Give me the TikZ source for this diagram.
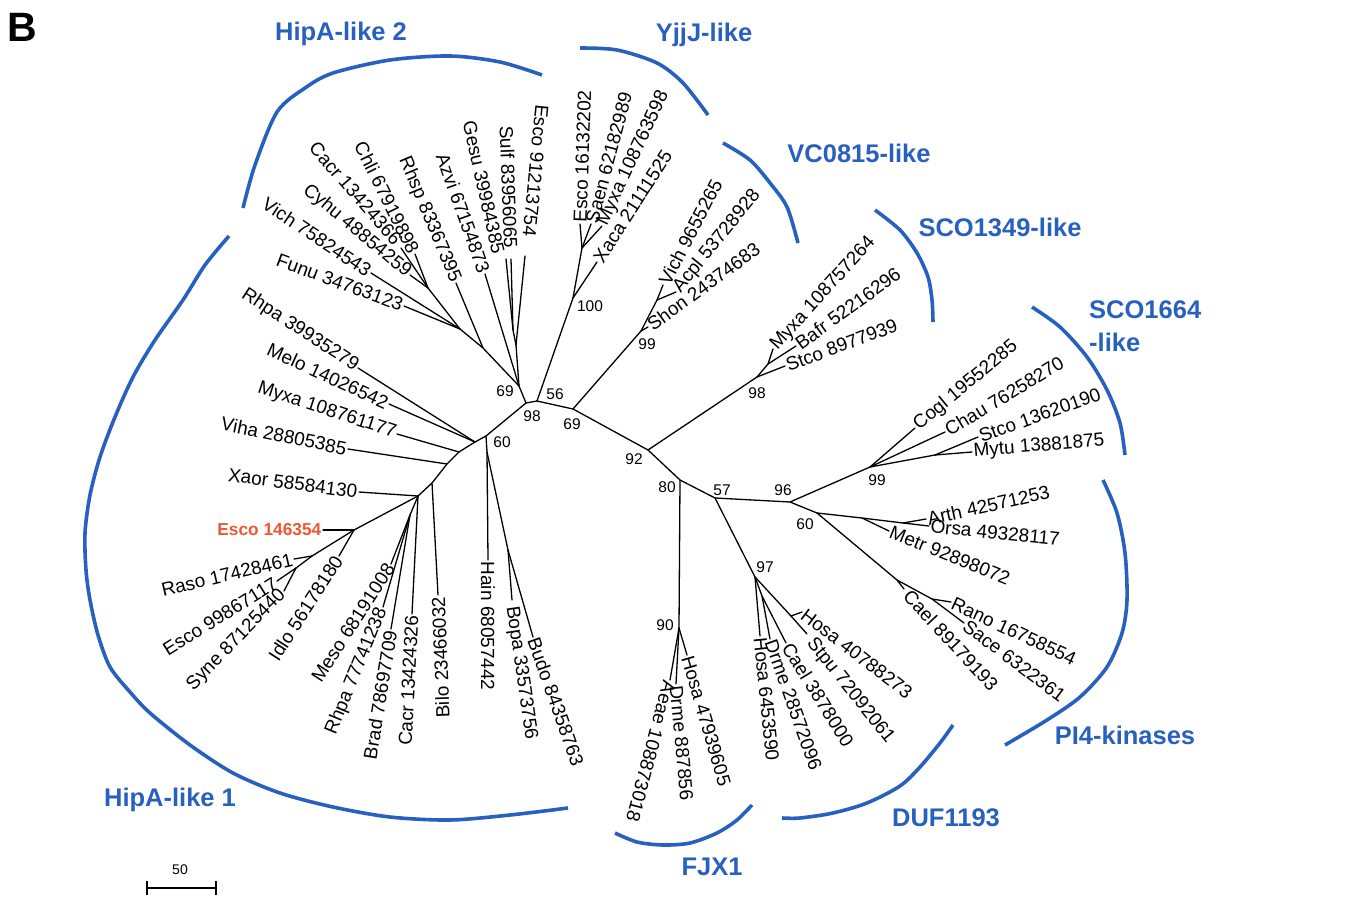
\documentclass[tikz,border=0pt]{standalone}
\usepackage{fontspec}
\setmainfont{Liberation Sans}
\begin{document}
\definecolor{cblue}{RGB}{40,96,192}
\definecolor{cred}{RGB}{238,88,52}
\begin{tikzpicture}[x=1pt,y=-1pt,
  br/.style={draw=black,line width=1.3pt,line cap=round,line join=round},
  leaf/.style={font=\fontsize{19}{21}\selectfont,inner sep=1.5pt},
  lw/.style={leaf,anchor=west},
  le/.style={leaf,anchor=east},
  boot/.style={font=\fontsize{15.5}{17}\selectfont,inner sep=0pt},
  clade/.style={draw=cblue,line width=3.6pt,line cap=butt},
  grp/.style={font=\bfseries\fontsize{25.5}{33}\selectfont,text=cblue,inner sep=0pt},
  sbar/.style={draw=black,line width=1.3pt}]
\useasboundingbox (0,0) rectangle (1354,899);

% ---------- internal nodes ----------
\coordinate (h2) at (519,386);
\coordinate (n98) at (526,403);
\coordinate (n56) at (537,401);
\coordinate (n69v) at (573,409);
\coordinate (n92) at (648,450);
\coordinate (n80) at (680,480);
\coordinate (n57) at (715,498);
\coordinate (n96) at (790,502);
\coordinate (n99c) at (870,467);
\coordinate (n60p) at (817,513);
\coordinate (n97) at (755,577);
\coordinate (n90) at (679,628);
\coordinate (n100) at (573,298);
\coordinate (n99v) at (641,331);
\coordinate (n98s) at (757,377);
\coordinate (h1) at (486,436);
% HipA-like 2
\coordinate (r1) at (483,348);
\coordinate (c1) at (460,329);
\coordinate (c2) at (428,288);
\coordinate (g1) at (516,345);
\coordinate (gs) at (513,330);
% YjjJ
\coordinate (ya) at (582,248);
% VC0815
\coordinate (vj) at (657,300);
% SCO1349
\coordinate (sj) at (768,364);
% SCO1664
\coordinate (sk) at (935,455);
% PI4
\coordinate (mt) at (862,518);
\coordinate (ao) at (903,523);
\coordinate (y1) at (897,580);
\coordinate (y2) at (932,599);
% DUF1193
\coordinate (d1) at (762,596);
\coordinate (dj) at (791,616);
% HipA-like 1
\coordinate (hb) at (487,452);
\coordinate (bq) at (508,550);
\coordinate (ja) at (475,442);
\coordinate (jb) at (459,452);
\coordinate (jc) at (447,464);
\coordinate (jd) at (432,483);
\coordinate (x2) at (418,496);
\coordinate (x3) at (410,515);
\coordinate (x4) at (354,530);
\coordinate (x5) at (312,556);
\coordinate (x6) at (296,568);

% ---------- tips ----------
\coordinate (tCacrA) at (401,248);
\coordinate (tChli) at (415,254);
\coordinate (tCyhu) at (410,275);
\coordinate (tVichA) at (371,273);
\coordinate (tFunu) at (404,306);
\coordinate (tRhsp) at (456,283);
\coordinate (tAzvi) at (485,274);
\coordinate (tGesu) at (506,259);
\coordinate (tSulf) at (511,259);
\coordinate (tEsco91) at (525,256);
\coordinate (tEsco161) at (580,224);
\coordinate (tSaen) at (591,224);
\coordinate (tMyxaY) at (602,226);
\coordinate (tXaca) at (597,262);
\coordinate (tVichV) at (663,285);
\coordinate (tAcpl) at (676,292);
\coordinate (tShon) at (648,327);
\coordinate (tMyxaS) at (773,349);
\coordinate (tBafr) at (796,346);
\coordinate (tStcoS) at (785,366);
\coordinate (tCogl) at (915,428);
\coordinate (tChau) at (945,432);
\coordinate (tStcoC) at (978,437);
\coordinate (tMytu) at (972,452);
\coordinate (tArth) at (926,519);
\coordinate (tOrsa) at (929,526);
\coordinate (tMetr) at (889,531);
\coordinate (tRano) at (951,602);
\coordinate (tSace) at (964,623);
\coordinate (tCaelP) at (904,589);
\coordinate (tHosa407) at (802,612);
\coordinate (tStpu) at (807,634);
\coordinate (tCael387) at (786,643);
\coordinate (tDrme285) at (770,639);
\coordinate (tHosa645) at (760,636);
\coordinate (tHosa479) at (687,655);
\coordinate (tDrme887) at (676,684);
\coordinate (tAeae) at (670,680);
\coordinate (tHain) at (488,560);
\coordinate (tBopa) at (512,600);
\coordinate (tBudo) at (533,637);
\coordinate (tRhpaA) at (358,368);
\coordinate (tMelo) at (389,404);
\coordinate (tMyxaH) at (397,434);
\coordinate (tViha) at (348,449);
\coordinate (tXaor) at (359,492);
\coordinate (tEscoR) at (323,530);
\coordinate (tRaso) at (294,559);
\coordinate (tEsco998) at (277,581);
\coordinate (tSyne) at (284,591);
\coordinate (tIdlo) at (339,556);
\coordinate (tMeso) at (391,564);
\coordinate (tRhpaB) at (383,607);
\coordinate (tBrad) at (391,629);
\coordinate (tCacrB) at (412,614);
\coordinate (tBilo) at (438,595);

% ---------- branches ----------
\draw[br] (h2) -- (n98) -- (n56) -- (n69v) -- (n92) -- (n80) -- (n57);
\draw[br] (h1) -- (n98);
\draw[br] (n56) -- (n100) -- (ya);
\draw[br] (n69v) -- (n99v) -- (vj);
\draw[br] (n92) -- (n98s);
\draw[br] (n80) -- (n90);
\draw[br] (n57) -- (n96) -- (n99c);
\draw[br] (n96) -- (n60p);
\draw[br] (n57) -- (n97);
% HipA-like 2
\draw[br] (h2) -- (r1) -- (c1) -- (c2);
\draw[br] (c2) -- (tCacrA);
\draw[br] (c2) -- (tChli);
\draw[br] (c2) -- (tCyhu);
\draw[br] (c1) -- (tVichA);
\draw[br] (c1) -- (tFunu);
\draw[br] (r1) -- (tRhsp);
\draw[br] (h2) -- (tAzvi);
\draw[br] (h2) -- (g1) -- (gs) -- (tGesu);
\draw[br] (gs) -- (tSulf);
\draw[br] (g1) -- (tEsco91);
% YjjJ
\draw[br] (ya) -- (tEsco161);
\draw[br] (ya) -- (tSaen);
\draw[br] (ya) -- (tMyxaY);
\draw[br] (n100) -- (tXaca);
% VC0815
\draw[br] (n99v) -- (tShon);
\draw[br] (vj) -- (tVichV);
\draw[br] (vj) -- (tAcpl);
% SCO1349
\draw[br] (n98s) -- (sj) -- (tMyxaS);
\draw[br] (sj) -- (tBafr);
\draw[br] (n98s) -- (tStcoS);
% SCO1664
\draw[br] (n99c) -- (tCogl);
\draw[br] (n99c) -- (tChau);
\draw[br] (n99c) -- (sk) -- (tStcoC);
\draw[br] (sk) -- (tMytu);
% PI4
\draw[br] (n60p) -- (mt) -- (ao) -- (tArth);
\draw[br] (ao) -- (tOrsa);
\draw[br] (mt) -- (tMetr);
\draw[br] (n60p) -- (y1) -- (tCaelP);
\draw[br] (y1) -- (y2) -- (tRano);
\draw[br] (y2) -- (tSace);
% DUF1193
\draw[br] (n97) -- (tHosa645);
\draw[br] (n97) -- (d1) -- (tDrme285);
\draw[br] (d1) -- (tCael387);
\draw[br] (n97) -- (dj) -- (tStpu);
\draw[br] (dj) -- (tHosa407);
% FJX1
\draw[br] (n90) -- (tHosa479);
\draw[br] (n90) -- (tAeae);
\draw[br] (n90) -- (tDrme887);
% HipA-like 1
\draw[br] (h1) -- (hb) -- (tHain);
\draw[br] (hb) -- (bq) -- (tBudo);
\draw[br] (bq) -- (tBopa);
\draw[br] (h1) -- (ja) -- (jb) -- (jc) -- (jd) -- (x2) -- (x4) -- (x5) -- (x6);
\draw[br] (ja) -- (tRhpaA);
\draw[br] (ja) -- (tMelo);
\draw[br] (jb) -- (tMyxaH);
\draw[br] (jc) -- (tViha);
\draw[br] (jd) -- (tBilo);
\draw[br] (x2) -- (tXaor);
\draw[br] (x2) -- (tCacrB);
\draw[br] (x2) -- (x3) -- (tMeso);
\draw[br] (x3) -- (tRhpaB);
\draw[br] (x3) -- (tBrad);
\draw[br] (x4) -- (tEscoR);
\draw[br] (x4) -- (tIdlo);
\draw[br] (x5) -- (tRaso);
\draw[br] (x6) -- (tEsco998);
\draw[br] (x6) -- (tSyne);

% ---------- leaf labels ----------
\node[le,rotate=-49.2] (lCacrA) at (399,244) {Cacr 13424366};
\node[le,rotate=-63.6] (lChli) at (tChli) {Chli 67919898};
\node[le,rotate=-39.6] (lCyhu) at (tCyhu) {Cyhu 48854259};
\node[le,rotate=-33.7] (lVichA) at (tVichA) {Vich 75824543};
\node[le,rotate=-20.2] (lFunu) at (tFunu) {Funu 34763123};
\node[le,rotate=-67.3] (lRhsp) at (tRhsp) {Rhsp 83367395};
\node[le,rotate=-70.3] (lAzvi) at (tAzvi) {Azvi 67154873};
\node[le,rotate=-77.3] (lGesu) at (499,255) {Gesu 39984385};
\node[le,rotate=-87.9] (lSulf) at (511,250) {Sulf 83956065};
\node[le,rotate=-95.6] (lEsco91) at (529,238) {Esco 91213754};
\node[lw,rotate=88] (lEsco161) at (tEsco161) {Esco 16132202};
\node[lw,rotate=75] (lSaen) at (tSaen) {Saen 62182989};
\node[lw,rotate=65] (lMyxaY) at (tMyxaY) {Myxa 108763598};
\node[lw,rotate=57.3] (lXaca) at (tXaca) {Xaca 21111525};
\node[lw,rotate=62.6] (lVichV) at (tVichV) {Vich 9655265};
\node[lw,rotate=51] (lAcpl) at (tAcpl) {Acpl 53728928};
\node[lw,rotate=36.1] (lShon) at (tShon) {Shon 24374683};
\node[lw,rotate=47.7] (lMyxaS) at (tMyxaS) {Myxa 108757264};
\node[lw,rotate=36] (lBafr) at (tBafr) {Bafr 52216296};
\node[lw,rotate=20.3] (lStcoS) at (tStcoS) {Stco 8977939};
\node[lw,rotate=39.8] (lCogl) at (tCogl) {Cogl 19552285};
\node[lw,rotate=31.3] (lChau) at (tChau) {Chau 76258270};
\node[lw,rotate=19.7] (lStcoC) at (tStcoC) {Stco 13620190};
\node[lw,rotate=4.6] (lMytu) at (tMytu) {Mytu 13881875};
\node[lw,rotate=12.5] (lArth) at (tArth) {Arth 42571253};
\node[lw,rotate=-5.9] (lOrsa) at (tOrsa) {Orsa 49328117};
\node[lw,rotate=-21.9] (lMetr) at (tMetr) {Metr 92898072};
\node[lw,rotate=-25] (lRano) at (tRano) {Rano 16758554};
\node[lw,rotate=-37] (lSace) at (tSace) {Sace 6322361};
\node[lw,rotate=-47.1] (lCaelP) at (906,592) {Cael 89179193};
\node[lw,rotate=-37.3] (lHosa407) at (tHosa407) {Hosa 40788273};
\node[lw,rotate=-51.5] (lStpu) at (809,639) {Stpu 72092061};
\node[lw,rotate=-58.2] (lCael387) at (tCael387) {Cael 3878000};
\node[lw,rotate=-70.4] (lDrme285) at (tDrme285) {Drme 28572096};
\node[lw,rotate=-84.2] (lHosa645) at (tHosa645) {Hosa 6453590};
\node[lw,rotate=-73.7] (lHosa479) at (tHosa479) {Hosa 47939605};
\node[lw,rotate=-84.6] (lDrme887) at (tDrme887) {Drme 887856};
\node[lw,rotate=-105] (lAeae) at (tAeae) {Aeae 108873018};
\node[lw,rotate=-90] (lHain) at (tHain) {Hain 68057442};
\node[lw,rotate=-81.7] (lBopa) at (511,605) {Bopa 33573756};
\node[lw,rotate=-70.5] (lBudo) at (tBudo) {Budo 84358763};
\node[le,rotate=-33.1] (lRhpaA) at (tRhpaA) {Rhpa 39935279};
\node[le,rotate=-24.6] (lMelo) at (tMelo) {Melo 14026542};
\node[le,rotate=-18.2] (lMyxaH) at (tMyxaH) {Myxa 108761177};
\node[le,rotate=-11.6] (lViha) at (tViha) {Viha 28805385};
\node[le,rotate=-7.6] (lXaor) at (tXaor) {Xaor 58584130};
\node[le,text=cred,font=\bfseries\fontsize{17.3}{19}\selectfont] (lEscoR) at (tEscoR) {Esco 146354};
\node[le,rotate=13.3] (lRaso) at (tRaso) {Raso 17428461};
\node[le,rotate=32] (lEsco998) at (tEsco998) {Esco 99867117};
\node[le,rotate=45.9] (lSyne) at (tSyne) {Syne 87125440};
\node[le,rotate=57.2] (lIdlo) at (tIdlo) {Idlo 56178180};
\node[le,rotate=57] (lMeso) at (tMeso) {Meso 68191008};
\node[le,rotate=67.7] (lRhpaB) at (tRhpaB) {Rhpa 77741238};
\node[le,rotate=80.7] (lBrad) at (tBrad) {Brad 78697709};
\node[le,rotate=87] (lCacrB) at (tCacrB) {Cacr 13424326};
\node[le,rotate=92.3] (lBilo) at (tBilo) {Bilo 23466032};

% ---------- bootstrap values ----------
\node[boot] (b69a) at (505,391) {69};
\node[boot] (b98a) at (532,416) {98};
\node[boot] (b56) at (555,394) {56};
\node[boot] (b69b) at (572,424) {69};
\node[boot] (b100) at (590,306) {100};
\node[boot] (b99v) at (647,344) {99};
\node[boot] (b98s) at (757,393) {98};
\node[boot] (b92) at (634,459) {92};
\node[boot] (b80) at (667,487) {80};
\node[boot] (b57) at (722,490) {57};
\node[boot] (b96) at (783,490) {96};
\node[boot] (b60p) at (805,524) {60};
\node[boot] (b99c) at (877,480) {99};
\node[boot] (b60h) at (502,442) {60};
\node[boot] (b97) at (765,567) {97};
\node[boot] (b90) at (665,625) {90};

% ---------- clade arcs ----------
\draw[clade] plot[smooth] coordinates {(243,208) (255,165) (277,112) (305,88) (333,73) (390,60) (450,56) (500,62) (542,75)};
\draw[clade] plot[smooth] coordinates {(580,48) (617,50) (657,63) (683,83) (708,115)};
\draw[clade] plot[smooth] coordinates {(723,143) (750,160) (770,183) (787,207) (798,243)};
\draw[clade] plot[smooth] coordinates {(875,210) (900,230) (917,253) (928,277) (932,300) (933,322)};
\draw[clade] plot[smooth] coordinates {(1032,307) (1060,327) (1087,357) (1107,390) (1120,423) (1125,455)};
\draw[clade] plot[smooth] coordinates {(1103,480) (1117,513) (1125,553) (1127,600) (1122,633) (1107,667) (1080,697) (1047,720) (1005,745)};
\draw[clade] plot[smooth] coordinates {(953,725) (940,743) (920,767) (900,786) (867,803) (833,813) (800,818) (782,818)};
\draw[clade] plot[smooth] coordinates {(615,833) (637,842) (663,845) (690,843) (717,833) (737,820) (752,805)};
\draw[clade] plot[smooth] coordinates {(229,236) (205,265) (183,300) (155,340) (133,377) (115,417) (100,457) (90,495) (85,533) (86,570) (90,600) (98,635) (110,667) (130,692) (150,713) (190,745) (233,773) (280,793) (333,807) (390,817) (450,820) (510,815) (568,808)};

% ---------- group labels ----------
\node[grp] (gH2) at (341,34) {HipA-like 2};
\node[grp] (gY) at (704,35) {YjjJ-like};
\node[grp] (gV) at (859,153) {VC0815-like};
\node[grp] (gS13) at (1000,227) {SCO1349-like};
\node[grp,align=left,anchor=west] (gS16) at (1089,326) {SCO1664\\-like};
\node[grp] (gPI) at (1125,735) {PI4-kinases};
\node[grp] (gD) at (946,818) {DUF1193};
\node[grp] (gF) at (712,867) {FJX1};
\node[grp] (gH1) at (170,800) {HipA-like 1};
\node[font=\bfseries\fontsize{41}{41}\selectfont,inner sep=0pt] (B) at (22,27) {B};

% ---------- scale bar ----------
\coordinate (sbL) at (147,888);
\coordinate (sbR) at (216,888);
\coordinate (sbLt) at (147,881);
\coordinate (sbLb) at (147,895);
\coordinate (sbRt) at (216,881);
\coordinate (sbRb) at (216,895);
\draw[sbar] (sbL) -- (sbR);
\draw[sbar] (sbLt) -- (sbLb);
\draw[sbar] (sbRt) -- (sbRb);
\node[font=\fontsize{14}{14}\selectfont,inner sep=0pt] (sb50) at (180,870) {50};
\end{tikzpicture}
\end{document}
